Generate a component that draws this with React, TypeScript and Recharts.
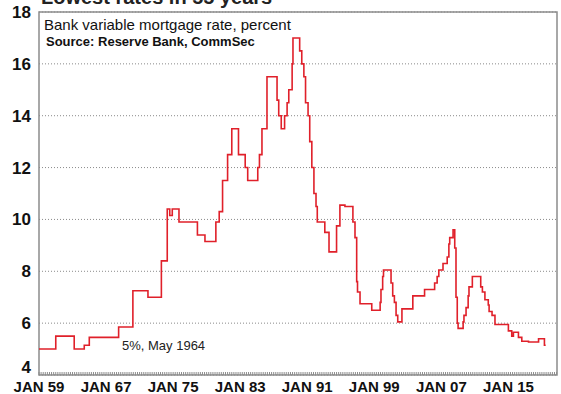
import { LineChart, Line, XAxis, YAxis, CartesianGrid, ReferenceArea } from "recharts";

// step points: decimal year when the rate changed, and the new rate
const rateDates = [
  1959.0, 1961.0, 1963.2, 1964.4, 1965.0, 1968.5, 1970.2, 1972.0, 1973.6, 1974.3,
  1974.6, 1974.9, 1975.7, 1977.9, 1978.8, 1980.1, 1980.5, 1980.9, 1981.5, 1982.0,
  1982.8, 1983.6, 1983.9, 1985.1, 1985.3, 1985.6, 1986.2, 1987.4, 1987.6, 1987.9,
  1988.3, 1988.6, 1988.8, 1989.2, 1989.3, 1990.1, 1990.35, 1990.6, 1990.8, 1991.1,
  1991.3, 1991.55, 1991.8, 1992.05, 1992.2, 1993.1, 1993.6, 1994.5, 1994.9, 1995.5,
  1996.45, 1996.7, 1996.9, 1997.0, 1997.3, 1998.7, 1999.7, 1999.8, 2000.0, 2000.1,
  2001.0, 2001.2, 2001.4, 2001.6, 2001.8, 2002.3, 2003.6, 2005.0, 2006.2, 2006.5,
  2006.7, 2007.2, 2007.7, 2007.9, 2008.0, 2008.4, 2008.6, 2008.75, 2008.9, 2009.0,
  2009.6, 2009.7, 2009.95, 2010.2, 2010.3, 2010.7, 2011.7, 2011.9, 2012.2, 2012.6,
  2012.7, 2013.05, 2013.4, 2015.0, 2015.4, 2015.6, 2016.2, 2016.6, 2017.4, 2018.6,
  2019.3, 2019.45,
];
const rates = [
  5.0, 5.5, 5.0, 5.15, 5.45, 5.85, 7.25, 7.0, 8.4, 10.4,
  10.15, 10.4, 9.9, 9.4, 9.15, 9.9, 10.3, 11.5, 12.5, 13.5,
  12.5, 12.0, 11.5, 12.0, 12.5, 13.5, 15.5, 14.6, 14.0, 13.5,
  14.0, 14.5, 15.0, 16.0, 17.0, 16.5, 16.0, 15.5, 14.5, 14.0,
  13.0, 12.0, 11.0, 10.5, 9.9, 9.5, 8.75, 9.75, 10.55, 10.5,
  9.9, 9.3, 7.6, 7.2, 6.75, 6.5, 6.8, 7.3, 7.8, 8.05,
  7.55, 7.05, 6.8, 6.3, 6.05, 6.55, 7.05, 7.3, 7.55, 7.8,
  8.05, 8.3, 8.55, 9.05, 9.3, 9.6, 8.9, 7.0, 6.0, 5.8,
  6.05, 6.3, 6.6, 7.05, 7.4, 7.8, 7.4, 7.2, 6.9, 6.7,
  6.45, 6.3, 5.95, 5.7, 5.5, 5.65, 5.45, 5.3, 5.27, 5.4,
  5.15, 5.15,
];

const labelYears = [1959, 1967, 1975, 1983, 1991, 1999, 2007, 2015];
const labelTexts = ["JAN 59", "JAN 67", "JAN 75", "JAN 83", "JAN 91", "JAN 99", "JAN 07", "JAN 15"];
const yTicks = [4, 6, 8, 10, 12, 14, 16, 18];

const X_MIN = 1959;
const X_MAX = 2020.8;
const FONT = '"Liberation Sans", Arial, Helvetica, sans-serif';

const data = rateDates.map((d, i) => ({ date: d, rate: rates[i] }));

// quarterly minor tick marks along the bottom axis
const minorTicks: number[] = [];
for (let q = 0; X_MIN + q / 4 <= X_MAX; q++) minorTicks.push(X_MIN + q / 4);

function XTick(props: any) {
  const { x, y, payload } = props;
  const idx = labelYears.indexOf(payload.value);
  return (
    <g>
      <line x1={x} x2={x} y1={y} y2={y - 3} stroke="#8c8c8c" strokeWidth={1} />
      {idx >= 0 && (
        <text x={x} y={y + 17} textAnchor="middle" fontFamily={FONT} fontWeight="bold" fontSize={15} fill="#111">
          {labelTexts[idx]}
        </text>
      )}
    </g>
  );
}

function YTick(props: any) {
  const { x, y, payload } = props;
  const dy = payload.value === 4 ? -2 : 6;
  return (
    <text x={x} y={y + dy} textAnchor="end" fontFamily={FONT} fontWeight="bold" fontSize={17} fill="#111">
      {payload.value}
    </text>
  );
}

export default function App() {
  return (
    <div style={{ position: "absolute", left: 0, top: 0, width: 561, height: 394, overflow: "hidden", background: "#fff" }}>
      <LineChart width={561} height={394} data={data} margin={{ top: 12, right: 4, bottom: 0, left: 0 }}>
        <CartesianGrid vertical={false} stroke="#8a8a8a" strokeDasharray="1 2" />
        <XAxis
          dataKey="date"
          type="number"
          domain={[X_MIN, X_MAX]}
          ticks={minorTicks}
          interval={0}
          height={19}
          tickSize={0}
          tickMargin={0}
          tickLine={false}
          axisLine={false}
          tick={<XTick />}
        />
        <YAxis
          domain={[4, 18]}
          ticks={yTicks}
          interval={0}
          width={39}
          tickSize={0}
          tickMargin={8}
          tickLine={false}
          axisLine={false}
          tick={<YTick />}
        />
        <ReferenceArea x1={X_MIN} x2={X_MAX} y1={4} y2={18} fill="none" stroke="#8c8c8c" strokeWidth={1.5} />
        <Line
          type="stepAfter"
          dataKey="rate"
          stroke="#e0202a"
          strokeWidth={1.6}
          dot={false}
          isAnimationActive={false}
        />
      </LineChart>
      <svg width={561} height={394} style={{ position: "absolute", left: 0, top: 0, pointerEvents: "none" }}>
        <text x={41} y={4} fontFamily={FONT} fontWeight="bold" fontSize={20} fill="#222">
          Lowest rates in 55 years
        </text>
        <text x={44} y={30} fontFamily={FONT} fontSize={15} fill="#111">
          Bank variable mortgage rate, percent
        </text>
        <text x={46} y={46} fontFamily={FONT} fontWeight="bold" fontSize={13} fill="#111">
          Source: Reserve Bank, CommSec
        </text>
        <text x={122} y={350} fontFamily={FONT} fontSize={13} fill="#222">
          5%, May 1964
        </text>
      </svg>
    </div>
  );
}
